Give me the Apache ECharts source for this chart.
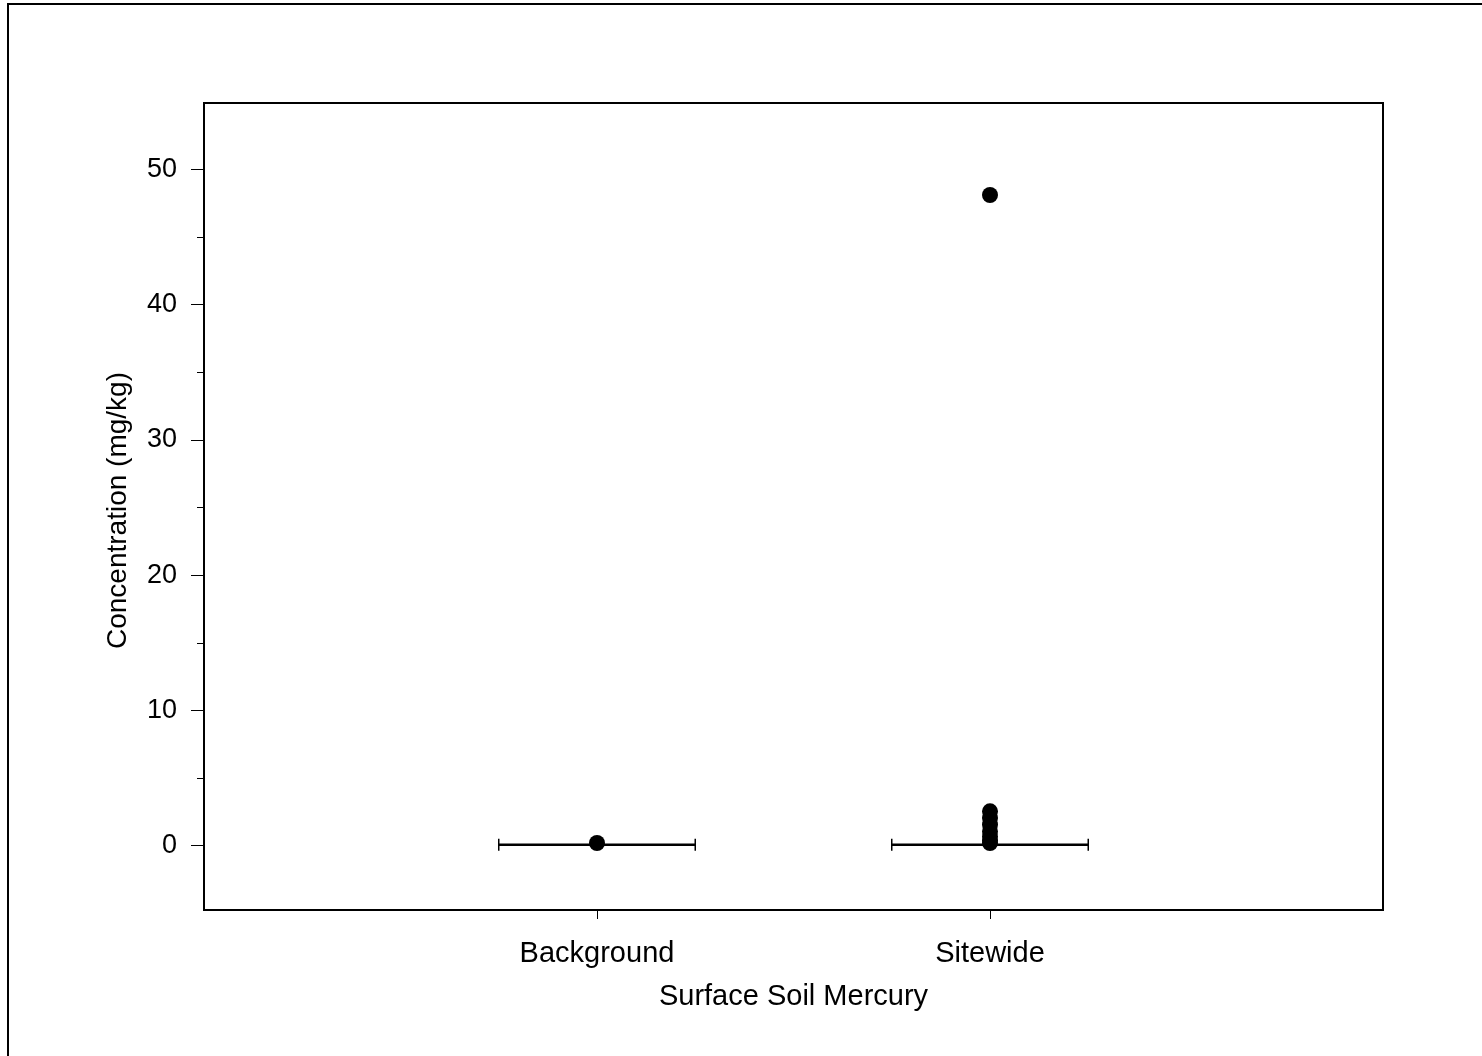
<!DOCTYPE html>
<html>
<head>
<meta charset="utf-8">
<script src="https://cdn.jsdelivr.net/npm/echarts@6/dist/echarts.min.js"></script>
<style>html,body{margin:0;padding:0;background:#fff;}#c{width:1482px;height:1056px;}</style>
</head>
<body>
<div id="c"></div>
<script>
// Data
var categories = ['Background', 'Sitewide'];
var categoryPositions = [1, 2];
// box stats per group: [min, q1, median, q3, max]
var boxStats = [
  [0.05, 0.06, 0.07, 0.08, 0.1],
  [0.05, 0.06, 0.07, 0.08, 0.1]
];
var backgroundPoints = [0.2];
var sitewidePoints = [48.1, 2.54, 2.05, 1.55, 1.06, 0.69, 0.4, 0.2];
var yMajorTicks = [0, 10, 20, 30, 40, 50];
var yMinorTicks = [5, 15, 25, 35, 45];

var font = '"Liberation Sans", Arial, sans-serif';
var chart = echarts.init(document.getElementById('c'));

var boxData = boxStats.map(function (s, i) {
  return [categoryPositions[i]].concat(s);
});
var pointData = [];
backgroundPoints.forEach(function (v) { pointData.push([categoryPositions[0], v]); });
sitewidePoints.forEach(function (v) { pointData.push([categoryPositions[1], v]); });

var halfWidth = 0.25;

chart.setOption({
  backgroundColor: '#fff',
  animation: false,
  graphic: [{
    type: 'rect',
    z: -10,
    shape: { x: 8, y: 4, width: 1600, height: 1200 },
    style: { fill: 'none', stroke: '#000', lineWidth: 2 }
  }],
  grid: {
    left: 204, top: 103, right: 99, bottom: 146,
    show: true, borderColor: '#000', borderWidth: 2, backgroundColor: 'transparent'
  },
  xAxis: {
    type: 'value', min: 0, max: 3,
    name: 'Surface Soil Mercury', nameLocation: 'middle', nameGap: 72,
    nameTextStyle: { color: '#000', fontSize: 29, fontFamily: font },
    axisLine: { show: true, onZero: false, lineStyle: { color: '#000', width: 2 } },
    axisTick: { show: true, length: 9, lineStyle: { color: '#000', width: 1 }, customValues: categoryPositions },
    axisLabel: {
      color: '#000', fontSize: 29, fontFamily: font, margin: 29,
      customValues: categoryPositions,
      formatter: function (v) { var i = categoryPositions.indexOf(v); return i >= 0 ? categories[i] : ''; }
    },
    splitLine: { show: false }
  },
  yAxis: [{
    type: 'value', min: -4.75, max: 54.9,
    name: 'Concentration (mg/kg)', nameLocation: 'middle', nameGap: 72, nameRotate: 90,
    nameTextStyle: { color: '#000', fontSize: 28, fontFamily: font, padding: [0, 8, 0, 0] },
    axisLine: { show: true, onZero: false, lineStyle: { color: '#000', width: 2 } },
    axisTick: { show: true, length: 13, lineStyle: { color: '#000', width: 1 }, customValues: yMajorTicks },
    axisLabel: { color: '#000', fontSize: 27, fontFamily: font, margin: 27, padding: [8, 0, 0, 0], customValues: yMajorTicks },
    splitLine: { show: false }
  }, {
    type: 'value', min: -4.75, max: 54.9, position: 'left',
    axisLine: { show: false, onZero: false },
    axisTick: { show: true, length: 7, lineStyle: { color: '#000', width: 1 }, customValues: yMinorTicks },
    axisLabel: { show: false },
    splitLine: { show: false }
  }],
  series: [{
    type: 'custom',
    data: boxData,
    z: 2,
    renderItem: function (params, api) {
      var x = api.value(0);
      var q1 = api.coord([x - halfWidth, api.value(2)]);
      var q3 = api.coord([x + halfWidth, api.value(4)]);
      var med = api.coord([x, api.value(3)]);
      var left = q1[0], right = q3[0];
      var yTop = Math.min(q1[1], q3[1]), yBot = Math.max(q1[1], q3[1]);
      var cap = 6;
      return {
        type: 'group',
        children: [
          { type: 'line', shape: { x1: left, y1: med[1], x2: right, y2: med[1] }, style: { stroke: '#000', lineWidth: 2.5 } },
          { type: 'rect', shape: { x: left, y: yTop, width: right - left, height: yBot - yTop }, style: { fill: 'none', stroke: '#000', lineWidth: 1 } },
          { type: 'line', shape: { x1: left, y1: med[1] - cap, x2: left, y2: med[1] + cap }, style: { stroke: '#000', lineWidth: 1.5 } },
          { type: 'line', shape: { x1: right, y1: med[1] - cap, x2: right, y2: med[1] + cap }, style: { stroke: '#000', lineWidth: 1.5 } }
        ]
      };
    }
  }, {
    type: 'scatter',
    data: pointData,
    symbol: 'circle',
    symbolSize: 16,
    z: 3,
    itemStyle: { color: '#000', opacity: 1 }
  }]
});
</script>
</body>
</html>
